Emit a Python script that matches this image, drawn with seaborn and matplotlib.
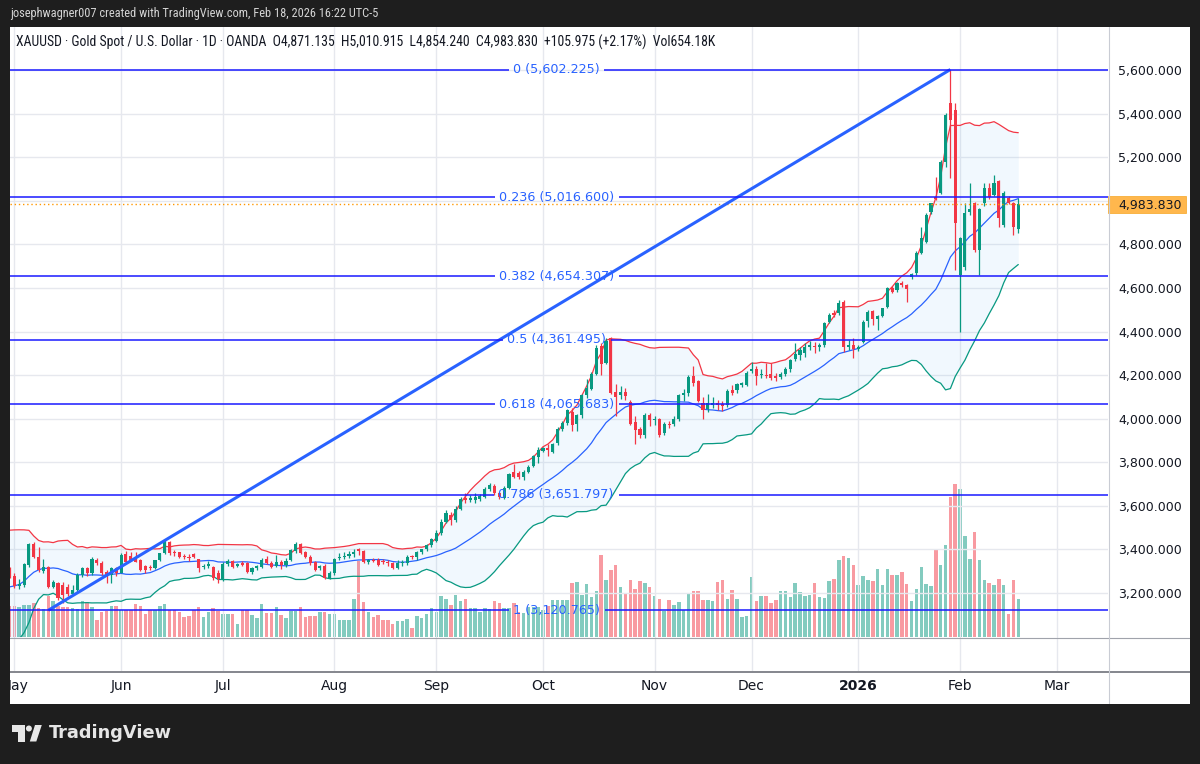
import numpy as np
import pandas as pd
import matplotlib
matplotlib.use("Agg")
import matplotlib.pyplot as plt
import matplotlib.transforms as mtransforms
from matplotlib import font_manager
from matplotlib.patches import Rectangle, Polygon, Circle
from matplotlib.lines import Line2D
import seaborn as sns

# ---------------- data ----------------
month_ticks = [1, 23, 44, 67, 88, 110, 133, 153, 175, 196, 216]
month_labels = ["May", "Jun", "Jul", "Aug", "Sep", "Oct", "Nov", "Dec", "2026", "Feb", "Mar"]

# closes of the 19 sessions before the first visible bar (Bollinger warm-up)
april_closes = [3134, 3114, 3037, 2982, 2982, 3083, 3175, 3237, 3210, 3229,
                3342, 3327, 3424, 3381, 3288, 3349, 3319, 3344, 3317]

opens = [
    3309, 3278, 3232, 3237, 3328, 3425, 3367, 3303, 3318, 3229,
    3247, 3236, 3228, 3196, 3214, 3283, 3313, 3290, 3352, 3339,
    3298, 3283, 3313, 3293, 3379, 3370, 3367, 3351, 3324, 3321,
    3313, 3351, 3382, 3436, 3390, 3387, 3370, 3363, 3379, 3354,
    3318, 3324, 3321, 3290, 3263, 3333, 3348, 3324, 3336, 3336,
    3298, 3313, 3321, 3354, 3339, 3324, 3344, 3328, 3351, 3394,
    3424, 3390, 3367, 3344, 3313, 3326, 3270, 3290, 3360, 3365,
    3372, 3378, 3400, 3394, 3344, 3352, 3351, 3345, 3343, 3336,
    3313, 3338, 3336, 3367, 3364, 3390, 3400, 3420, 3440, 3474,
    3527, 3558, 3535, 3586, 3634, 3627, 3626, 3630, 3642, 3676,
    3691, 3657, 3634, 3684, 3756, 3752, 3734, 3757, 3783, 3826,
    3853, 3866, 3848, 3887, 3951, 3979, 4032, 3975, 4015, 4108,
    4136, 4205, 4333, 4255, 4368, 4124, 4109, 4124, 4078, 3986,
    3951, 3925, 4017, 3994, 3998, 3932, 3975, 3975, 3997, 4108,
    4119, 4196, 4173, 4073, 4043, 4063, 4073, 4067, 4063, 4131,
    4131, 4153, 4154, 4220, 4228, 4200, 4200, 4203, 4196, 4193,
    4205, 4226, 4274, 4292, 4300, 4327, 4333, 4330, 4338, 4445,
    4483, 4483, 4537, 4327, 4338, 4321, 4353, 4449, 4495, 4456,
    4472, 4514, 4598, 4590, 4621, 4613, 4648, 4667, 4762, 4812,
    4950, 5018, 5034, 5179, 5447, 5416, 4659, 4697, 4950, 4991,
    4774, 4988, 5057, 5026, 5090, 4889, 5014, 4991, 4871.135]

highs = [
    3318, 3290, 3262, 3336, 3428, 3433, 3412, 3354, 3325, 3260,
    3252, 3250, 3240, 3238, 3290, 3318, 3320, 3363, 3360, 3345,
    3305, 3320, 3318, 3382, 3392, 3390, 3390, 3355, 3328, 3330,
    3352, 3385, 3445, 3440, 3398, 3390, 3378, 3380, 3385, 3358,
    3335, 3345, 3325, 3305, 3340, 3355, 3352, 3338, 3345, 3343,
    3318, 3330, 3360, 3372, 3345, 3375, 3352, 3362, 3400, 3435,
    3428, 3395, 3375, 3348, 3330, 3335, 3300, 3360, 3382, 3390,
    3392, 3400, 3405, 3398, 3358, 3360, 3360, 3355, 3350, 3340,
    3350, 3350, 3375, 3375, 3395, 3402, 3425, 3452, 3490, 3540,
    3580, 3570, 3600, 3640, 3660, 3650, 3657, 3655, 3685, 3705,
    3700, 3665, 3690, 3750, 3790, 3760, 3765, 3787, 3835, 3870,
    3872, 3882, 3890, 3960, 3990, 4045, 4048, 4022, 4115, 4180,
    4215, 4337, 4345, 4370, 4375, 4160, 4150, 4140, 4085, 4010,
    3960, 4025, 4025, 4010, 4005, 3985, 3990, 4010, 4115, 4135,
    4200, 4240, 4178, 4100, 4115, 4100, 4085, 4080, 4135, 4155,
    4165, 4170, 4220, 4262, 4240, 4230, 4255, 4255, 4210, 4215,
    4235, 4275, 4345, 4330, 4345, 4355, 4350, 4345, 4445, 4483,
    4498, 4544, 4544, 4361, 4368, 4340, 4452, 4498, 4498, 4475,
    4510, 4605, 4610, 4628, 4630, 4620, 4670, 4770, 4881, 4942,
    4991, 5110, 5187, 5401, 5602, 5447, 4835, 4988, 5080, 4996,
    4965, 5080, 5080, 5118, 5095, 5045, 5020, 4996, 5010.915]

lows = [
    3268, 3221, 3220, 3229, 3320, 3360, 3298, 3290, 3222, 3222,
    3168, 3156, 3185, 3190, 3205, 3275, 3278, 3283, 3330, 3283,
    3245, 3245, 3280, 3290, 3340, 3345, 3340, 3302, 3290, 3305,
    3308, 3345, 3378, 3375, 3368, 3360, 3355, 3345, 3360, 3298,
    3310, 3313, 3260, 3245, 3255, 3325, 3315, 3318, 3325, 3290,
    3285, 3305, 3315, 3335, 3315, 3318, 3310, 3320, 3345, 3385,
    3380, 3360, 3330, 3300, 3305, 3262, 3262, 3282, 3350, 3355,
    3360, 3365, 3375, 3338, 3332, 3340, 3325, 3332, 3325, 3310,
    3310, 3325, 3330, 3355, 3352, 3380, 3392, 3410, 3435, 3465,
    3520, 3510, 3525, 3580, 3615, 3618, 3612, 3622, 3638, 3668,
    3650, 3630, 3630, 3678, 3730, 3725, 3720, 3750, 3778, 3795,
    3845, 3830, 3842, 3880, 3945, 3970, 3945, 3945, 4005, 4095,
    4130, 4200, 4200, 4250, 4115, 4010, 4090, 4085, 3970, 3886,
    3910, 3910, 3965, 3970, 3918, 3925, 3955, 3965, 3990, 4080,
    4105, 4150, 4075, 4000, 4030, 4050, 4040, 4035, 4055, 4110,
    4120, 4145, 4150, 4210, 4155, 4185, 4185, 4177, 4175, 4180,
    4195, 4215, 4265, 4270, 4285, 4315, 4300, 4310, 4330, 4440,
    4468, 4478, 4307, 4315, 4277, 4310, 4345, 4422, 4430, 4407,
    4465, 4510, 4578, 4583, 4605, 4537, 4640, 4660, 4755, 4805,
    4940, 5003, 5030, 5156, 5103, 4682, 4399, 4682, 4935, 4766,
    4659, 4975, 5010, 5020, 4881, 4880, 4985, 4843, 4854.240]

closes = [
    3283, 3232, 3241, 3331, 3425, 3367, 3305, 3318, 3229, 3250,
    3175, 3191, 3196, 3216, 3282, 3313, 3292, 3354, 3336, 3293,
    3283, 3313, 3290, 3374, 3344, 3351, 3344, 3305, 3305, 3313,
    3351, 3382, 3436, 3382, 3385, 3364, 3365, 3360, 3364, 3313,
    3324, 3333, 3270, 3262, 3333, 3348, 3321, 3333, 3330, 3298,
    3313, 3324, 3351, 3339, 3321, 3344, 3328, 3348, 3397, 3424,
    3382, 3367, 3336, 3306, 3326, 3270, 3290, 3354, 3365, 3372,
    3378, 3390, 3394, 3344, 3350, 3347, 3328, 3340, 3337, 3313,
    3339, 3344, 3367, 3365, 3390, 3400, 3420, 3448, 3474, 3527,
    3565, 3535, 3586, 3632, 3626, 3636, 3640, 3645, 3676, 3696,
    3660, 3640, 3684, 3746, 3734, 3734, 3757, 3780, 3829, 3856,
    3866, 3857, 3883, 3951, 3981, 4040, 3971, 4015, 4108, 4139,
    4205, 4323, 4249, 4358, 4119, 4098, 4121, 4104, 3975, 3948,
    3925, 4017, 3994, 3997, 3925, 3975, 3969, 3997, 4108, 4119,
    4193, 4165, 4082, 4040, 4070, 4073, 4065, 4060, 4128, 4119,
    4157, 4162, 4211, 4228, 4196, 4203, 4197, 4188, 4185, 4205,
    4226, 4269, 4296, 4315, 4330, 4337, 4327, 4338, 4437, 4475,
    4475, 4529, 4330, 4338, 4318, 4330, 4445, 4491, 4456, 4472,
    4506, 4598, 4583, 4621, 4613, 4593, 4664, 4762, 4827, 4934,
    4988, 5006, 5179, 5393, 5370, 4896, 4827, 4942, 4962, 4774,
    4960, 5057, 5019, 5080, 4919, 5037, 4991, 4878, 4983.830]

volumes_k = [
    533, 533, 516, 550, 550, 585, 499, 482, 705, 619,
    533, 516, 516, 499, 482, 619, 602, 516, 292, 430,
    447, 533, 533, 464, 464, 464, 568, 533, 396, 464,
    464, 533, 568, 464, 464, 430, 344, 361, 464, 516,
    344, 430, 499, 447, 396, 396, 396, 224, 464, 464,
    378, 327, 568, 413, 413, 516, 378, 327, 447, 447,
    516, 344, 361, 361, 430, 430, 396, 396, 292, 292,
    292, 654, 1307, 602, 430, 344, 378, 292, 292, 224,
    275, 275, 310, 155, 361, 327, 396, 499, 430, 705,
    654, 550, 722, 619, 654, 499, 499, 430, 499, 482,
    619, 585, 499, 499, 585, 430, 413, 516, 516, 516,
    464, 533, 636, 636, 636, 636, 929, 946, 722, 912,
    688, 791, 1410, 980, 1152, 1238, 860, 740, 980, 826,
    963, 929, 860, 705, 654, 447, 636, 550, 602, 464,
    757, 791, 791, 636, 636, 619, 946, 980, 654, 808,
    654, 344, 361, 1032, 619, 705, 705, 585, 636, 791,
    791, 688, 929, 774, 705, 722, 929, 688, 671, 963,
    998, 1324, 1393, 1359, 1238, 894, 1049, 980, 963, 1170,
    894, 1170, 1066, 1066, 1118, 912, 619, 826, 1204, 912,
    877, 1496, 1238, 1582, 2408, 2632, 2546, 1737, 1342, 1806,
    1324, 980, 929, 894, 998, 894, 396, 980, 654.18]

fib_levels = ["0", "0.236", "0.382", "0.5", "0.618", "0.786", "1"]
fib_prices = [5602.225, 5016.600, 4654.307, 4361.495, 4065.683, 3651.797, 3120.765]
fib_anchor_bars = [8, 194]
fib_anchor_prices = [3120.765, 5602.225]
last_price = 4983.830
price_ticks = [3200, 3400, 3600, 3800, 4000, 4200, 4400, 4600, 4800, 5000, 5200, 5400, 5600]

header_text = "josephwagner007 created with TradingView.com, Feb 18, 2026 16:22 UTC-5"
legend_text = ("XAUUSD · Gold Spot / U.S. Dollar · 1D · OANDA  O4,871.135  H5,010.915  "
               "L4,854.240  C4,983.830  +105.975 (+2.17%)  Vol654.18K")

# ---------------- style ----------------
sns.set_theme(style="white")
plt.rcParams['font.family'] = ['DejaVu Sans']
names = {f.name for f in font_manager.fontManager.ttflist}
narrow = next((n for n in ['Liberation Sans Narrow', 'Roboto Condensed', 'Open Sans Condensed']
               if n in names), 'Liberation Sans')

W, H = 1200, 764
fig = plt.figure(figsize=(12, 7.64), dpi=100)
fig.patch.set_facecolor('#1e1e1e')


def fx(px):
    return px / W


def fy(py):
    return 1 - py / H


ID = mtransforms.IdentityTransform()


def rect_px(x0, y0, x1, y1, **kw):
    return Rectangle((x0, H - y1), x1 - x0, y1 - y0, transform=ID, **kw)


def hline_px(y, x0, x1, **kw):
    return Line2D([x0, x1], [H - y, H - y], transform=ID, **kw)


# white panel
fig.add_artist(rect_px(9, 27, 1190, 704, facecolor='white', edgecolor='none', zorder=-5))

PX_PER_USD = 523 / 2400
y_top = 5600 + (70 - 27) / PX_PER_USD
y_bot = 3200 - (637 - 593) / PX_PER_USD
x_left, x_right = 0.1, 226.5

ax = fig.add_axes([fx(10), fy(637), fx(1108) - fx(10), fy(27) - fy(637)])
ax_vol = ax.twinx()
ax_low = fig.add_axes([fx(10), fy(671), fx(1108) - fx(10), fy(637) - fy(671)], sharex=ax)
ax.set_zorder(2)
ax_vol.set_zorder(1)
ax.patch.set_visible(False)
ax_vol.axis('off')
ax_low.patch.set_visible(False)

ax.set_xlim(x_left, x_right)
ax.set_ylim(y_bot, y_top)
ax_vol.set_ylim(0, 610 * 17.2)

gridc = '#e6e8ee'
ax.set_axisbelow(True)
ax.set_yticks(price_ticks)
ax.set_yticklabels(['' if v == 5000 else f"{v:,.3f}" for v in price_ticks])
ax.set_xticks(month_ticks)
ax.grid(True, color=gridc, lw=1)
ax.yaxis.tick_right()
ax.tick_params(axis='y', length=0, pad=7.5, labelsize=9, labelcolor='#131722',
               labelright=True, labelleft=False)
ax.tick_params(axis='x', length=0, labelbottom=False)
for s in ax.spines.values():
    s.set_visible(False)

ax_low.set_ylim(0, 1)
ax_low.set_yticks([])
ax_low.set_xticks(month_ticks, labels=month_labels)
ax_low.grid(True, axis='x', color=gridc, lw=1)
ax_low.grid(False, axis='y')
ax_low.tick_params(axis='x', length=0, pad=5.5, labelsize=10, labelcolor='#131722')
for lab in ax_low.get_xticklabels():
    if lab.get_text() == '2026':
        lab.set_fontweight('bold')
for s in ax_low.spines.values():
    s.set_visible(False)

# ---------------- series ----------------
idx = np.arange(len(closes))
O = np.array(opens, float)
Hh = np.array(highs, float)
L = np.array(lows, float)
C = np.array(closes, float)
V = np.array(volumes_k, float)
up = C >= O
teal, red = '#089981', '#f23645'
col = np.where(up, teal, red)

# volume
vcol = [(8 / 255, 153 / 255, 129 / 255, 0.5) if u else (242 / 255, 54 / 255, 69 / 255, 0.5) for u in up]
ax_vol.bar(idx, V, width=0.72, color=vcol, linewidth=0)

# Bollinger bands (20, 2)
allc = pd.Series(april_closes + list(closes), dtype=float)
mid = allc.rolling(20).mean().iloc[len(april_closes):].to_numpy()
sd = allc.rolling(20).std(ddof=0).iloc[len(april_closes):].to_numpy()
upper = mid + 2 * sd
lower = mid - 2 * sd
ax.fill_between(idx, lower, upper, color='#2196f3', alpha=0.06, linewidth=0, zorder=1)
sns.lineplot(x=idx, y=upper, ax=ax, color=red, lw=0.9, zorder=2, legend=False)
sns.lineplot(x=idx, y=mid, ax=ax, color='#2962ff', lw=0.9, zorder=2, legend=False)
sns.lineplot(x=idx, y=lower, ax=ax, color=teal, lw=0.9, zorder=2, legend=False)

# candles
ax.vlines(idx, L, Hh, colors=col, lw=0.9, zorder=3)
body = np.maximum(np.abs(C - O), 4.0)
ax.bar(idx, body, bottom=np.minimum(O, C), width=0.64, color=col, linewidth=0, zorder=4)

# current price
ax.axhline(last_price, color='#ff9800', ls=(0, (1, 2)), lw=1, zorder=5)
blend = mtransforms.blended_transform_factory(ax.transAxes, ax.transData)
hh = 8.5 / PX_PER_USD
ax.add_patch(Rectangle((1.0, last_price - hh), 78 / 1098, 2 * hh, transform=blend,
                       facecolor='#ffb74d', edgecolor='#f5a623', lw=0.5, clip_on=False, zorder=6))
ax.text(1.0 + 10 / 1098, last_price, f"{last_price:,.3f}", transform=blend, va='center_baseline',
        ha='left', fontsize=9, color='#131722', zorder=7, clip_on=False)

# fib retracement
ax.plot(fib_anchor_bars, fib_anchor_prices, color='#2962ff', lw=2.2, zorder=6,
        solid_capstyle='butt')
fib_texts = []
for lv, p in zip(fib_levels, fib_prices):
    t = ax.text(112.7, p, f"{lv} ({p:,.3f})", ha='center', va='center', color='#2962ff',
                fontsize=9.2, zorder=7)
    fib_texts.append(t)
fig.canvas.draw()
inv = ax.transData.inverted()
for t, p in zip(fib_texts, fib_prices):
    bb = t.get_window_extent()
    xa = inv.transform((bb.x0 - 4, 0))[0]
    xb = inv.transform((bb.x1 + 5, 0))[0]
    ax.hlines(p, x_left, xa, color='#1a1aff', lw=1.1, zorder=6)
    ax.hlines(p, xb, x_right, color='#1a1aff', lw=1.1, zorder=6)

# ---------------- frame lines ----------------
fig.add_artist(hline_px(637.5, 9, 1190, color='#a0a3ab', lw=0.8, zorder=8))
fig.add_artist(hline_px(671.5, 9, 1190, color='#6f727a', lw=1.2, zorder=8))
fig.add_artist(Line2D([1108.5, 1108.5], [H - 27, H - 704], transform=ID, color='#c9ccd4', lw=0.8, zorder=8))

# dark borders over everything
for (a, b, c, d) in [(0, 0, 1200, 27), (0, 704, 1200, 764), (0, 0, 9.5, 764), (1190, 0, 1200, 764)]:
    fig.add_artist(rect_px(a, b, c, d, facecolor='#1e1e1e', edgecolor='none', zorder=20))

# texts
fig.text(fx(10), fy(14), header_text, color='#d4d4d4', fontsize=8.9, family=[narrow, 'DejaVu Sans'],
         va='center', ha='left', zorder=21)
fig.text(fx(16), fy(42.5), legend_text, color='#131722', fontsize=9.9, family=[narrow, 'DejaVu Sans'],
         va='center', ha='left', zorder=21)

# footer logo
logo_c = '#e6e6e6'
fig.add_artist(rect_px(11.7, 725, 25, 731.7, facecolor=logo_c, edgecolor='none', zorder=21))
fig.add_artist(rect_px(18.3, 725, 25, 741.5, facecolor=logo_c, edgecolor='none', zorder=21))
fig.add_artist(Circle((28.9, H - 728.5), 3.0, transform=ID, facecolor=logo_c, edgecolor='none', zorder=21))
fig.add_artist(Polygon([(35, H - 725), (41.8, H - 725), (36.3, H - 741.5), (29.8, H - 741.5)],
                       closed=True, transform=ID, facecolor=logo_c, edgecolor='none', zorder=21))
fig.text(fx(49), fy(733.5), "TradingView", color=logo_c, fontsize=12.8, fontweight='bold',
         va='center', ha='left', zorder=21)

fig.savefig("out.png", dpi=100, facecolor=fig.get_facecolor())
